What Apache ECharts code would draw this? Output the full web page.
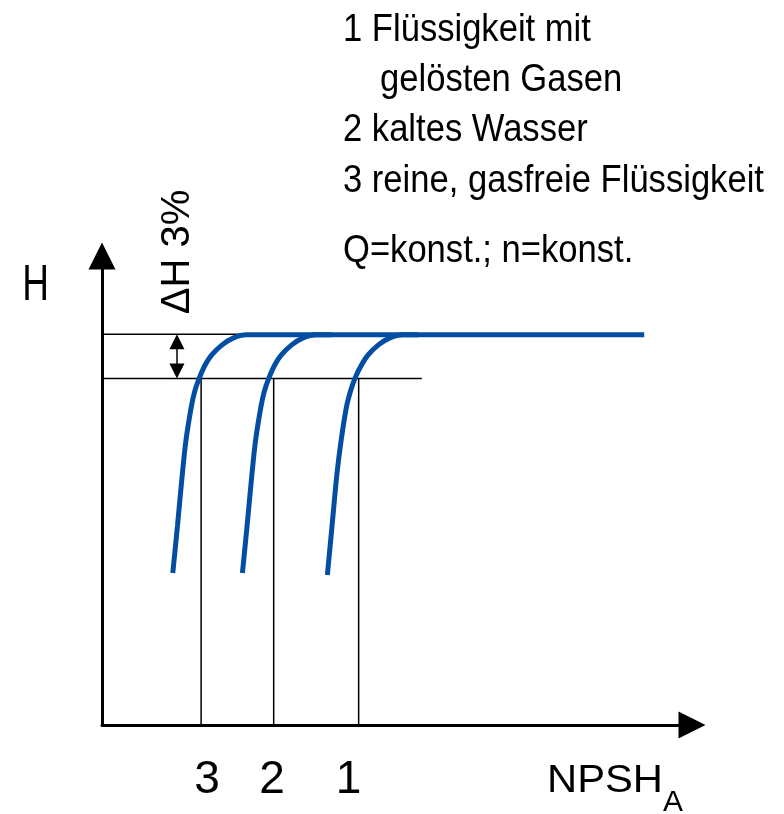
<!DOCTYPE html>
<html>
<head>
<meta charset="utf-8">
<script src="https://cdn.jsdelivr.net/npm/echarts@6/dist/echarts.min.js"></script>
<style>
  html, body { margin: 0; padding: 0; background: #fff; }
  #main { width: 784px; height: 814px; }
</style>
</head>
<body>
<div id="main"></div>
<script>
// Kennlinien H über NPSH_A (Einheiten frei, 0..100)
var curve3X = [12.0, 12.8, 13.6, 14.2, 15.1, 15.7, 16.5, 17.5, 18.6, 20.3, 22.2, 24.5, 27.1, 91.9];
var curve3Y = [32.4, 42.6, 53.3, 60.4, 67.6, 71.1, 74.0, 76.8, 78.9, 81.0, 82.5, 83.2, 83.2, 83.2];
var curve2X = [23.8, 24.6, 25.4, 26.0, 26.9, 27.5, 28.3, 29.3, 30.4, 32.1, 34.0, 36.3, 38.9];
var curve2Y = [32.4, 42.6, 53.3, 60.4, 67.6, 71.1, 74.0, 76.8, 78.9, 81.0, 82.5, 83.2, 83.2];
var curve1X = [38.2, 39.0, 39.8, 40.5, 41.4, 42.1, 42.9, 44.0, 45.1, 46.8, 48.7, 51.0, 53.6];
var curve1Y = [32.0, 42.6, 53.3, 60.4, 67.6, 71.1, 74.0, 76.8, 78.9, 81.0, 82.5, 83.2, 83.2];

var hTop = 83.3;          // H ohne Kavitation
var hDrop = 73.9;         // H - 3%
var npshReq = [16.8, 29.1, 43.5];   // Senkrechte bei 3, 2, 1
var upperRefEnd = 27.6;
var lowerRefEnd = 54.2;
var arrowX = 12.7;
var arrowY = [81.7, 75.5];

var tickLabels = ['3', '2', '1'];
var tickPos = [17.8, 28.8, 41.8];

var legendLines = [
    '1 Flüssigkeit mit',
    'gelösten Gasen',
    '2 kaltes Wasser',
    '3 reine, gasfreie Flüssigkeit',
    'Q=konst.; n=konst.'
];

var FONT = '"Liberation Sans", Arial, sans-serif';
var BLUE = '#034ea2';

function pairs(xs, ys) {
    var out = [];
    for (var i = 0; i < xs.length; i++) out.push([xs[i], ys[i]]);
    return out;
}

function thinLine(data) {
    return {
        type: 'line',
        data: data,
        symbol: 'none',
        silent: true,
        z: 2,
        lineStyle: { color: '#000', width: 1.5 }
    };
}

function curve(xs, ys) {
    return {
        type: 'line',
        data: pairs(xs, ys),
        symbol: 'none',
        smooth: 0.3,
        silent: true,
        z: 3,
        lineStyle: { color: BLUE, width: 5, cap: 'butt' }
    };
}

// schmale Schrift über scaleX nachbilden
function label(text, x, y, size, sx, align) {
    return {
        type: 'text', silent: true,
        x: x, y: y, scaleX: sx,
        style: {
            text: text, x: 0, y: 0,
            font: size + 'px ' + FONT, fill: '#000',
            textAlign: align || 'left', textVerticalAlign: 'middle'
        }
    };
}

var series = [
    thinLine([[0, hTop], [upperRefEnd, hTop]]),
    thinLine([[0, hDrop], [lowerRefEnd, hDrop]])
];
npshReq.forEach(function (x) {
    series.push(thinLine([[x, hDrop], [x, 0]]));
});
series.push(curve(curve3X, curve3Y));
series.push(curve(curve2X, curve2Y));
series.push(curve(curve1X, curve1Y));
// Doppelpfeil Delta H
series.push({
    type: 'line',
    data: [],
    silent: true,
    markLine: {
        silent: true,
        symbol: ['triangle', 'triangle'],
        symbolSize: [15, 15],
        label: { show: false },
        lineStyle: { color: '#000', width: 1.5, type: 'solid' },
        data: [[{ coord: [arrowX, arrowY[0]] }, { coord: [arrowX, arrowY[1]] }]]
    }
});

var legendY = [30.2, 80.2, 130.2, 181.2, 251.2];
var legendX = [343, 380, 343, 343, 343];
var graphics = legendLines.map(function (t, i) {
    return label(t, legendX[i], legendY[i], 38, 0.91);
});
graphics.push(label('H', 35.5, 286, 50, 0.74, 'center'));
var dh = label('ΔH 3%', 178, 252, 40, 1, 'center');
dh.rotation = Math.PI / 2;
graphics.push(dh);
graphics.push(label('NPSH', 547, 781, 39, 1.07));
graphics.push(label('A', 663, 803, 30, 1));

var chart = echarts.init(document.getElementById('main'), null, { renderer: 'canvas' });
chart.setOption({
    animation: false,
    backgroundColor: '#fff',
    grid: { left: 102, right: 92, top: 256, bottom: 89, outerBoundsMode: 'none' },
    xAxis: {
        type: 'value', min: 0, max: 100,
        splitLine: { show: false },
        axisTick: { show: false },
        axisLine: {
            lineStyle: { color: '#000', width: 3 },
            symbol: ['none', 'triangle'], symbolSize: [27, 27]
        },
        axisLabel: {
            customValues: tickPos,
            margin: 32,
            color: '#000',
            fontSize: 46,
            fontFamily: FONT,
            formatter: function (v) {
                var i = tickPos.indexOf(v);
                return i >= 0 ? tickLabels[i] : '';
            }
        }
    },
    yAxis: {
        type: 'value', min: 0, max: 100,
        splitLine: { show: false },
        axisTick: { show: false },
        axisLabel: { show: false },
        axisLine: {
            lineStyle: { color: '#000', width: 3 },
            symbol: ['none', 'triangle'], symbolSize: [27, 27]
        }
    },
    series: series,
    graphic: graphics
});
</script>
</body>
</html>
